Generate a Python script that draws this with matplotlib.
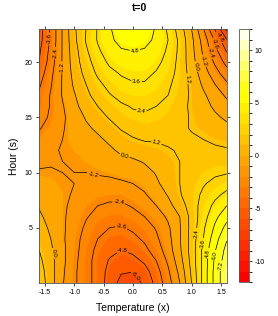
import numpy as np
import matplotlib
matplotlib.use("Agg")
import matplotlib.pyplot as plt
from matplotlib.colors import ListedColormap, BoundaryNorm

plt.rcParams['font.family'] = ['Liberation Sans', 'DejaVu Sans']
plt.rcParams['axes.unicode_minus'] = False

# ---- data ----
temperature = [-1.6, -1.4, -1.2, -1.0, -0.8, -0.6, -0.4, -0.2, 0.0, 0.2, 0.4, 0.6, 0.8, 1.0, 1.2, 1.4, 1.6]
hours = list(range(24))

z_h00 = [2.0, 0.5, -1.1, -2.2, -3.1, -4.1, -5.3, -6.4, -6.5, -5.8, -4.4, -2.9, -1.2, 1.2, 4.0, 6.4, 8.2]
z_h01 = [1.8, 0.5, -1.0, -2.2, -3.1, -4.1, -5.2, -5.9, -6.0, -5.3, -4.1, -2.6, -0.9, 1.4, 4.0, 6.4, 8.2]
z_h02 = [1.5, 0.4, -0.9, -2.1, -3.1, -4.1, -4.9, -5.3, -5.2, -4.6, -3.6, -2.2, -0.5, 1.6, 4.0, 6.2, 7.9]
z_h03 = [1.2, 0.2, -0.9, -2.0, -3.0, -3.9, -4.5, -4.8, -4.5, -3.9, -3.0, -1.8, -0.2, 1.7, 3.9, 5.9, 7.6]
z_h04 = [0.9, 0.0, -1.0, -2.0, -2.8, -3.6, -4.1, -4.2, -3.9, -3.4, -2.6, -1.6, -0.1, 1.7, 3.6, 5.5, 7.1]
z_h05 = [0.5, -0.2, -1.0, -1.8, -2.6, -3.2, -3.6, -3.7, -3.4, -2.9, -2.3, -1.4, -0.1, 1.6, 3.4, 5.0, 6.4]
z_h06 = [0.2, -0.4, -1.0, -1.7, -2.3, -2.8, -3.1, -3.1, -2.8, -2.4, -1.8, -1.0, 0.0, 1.6, 3.1, 4.5, 5.6]
z_h07 = [-0.1, -0.5, -1.0, -1.5, -2.0, -2.4, -2.6, -2.6, -2.3, -1.8, -1.2, -0.4, 0.6, 1.8, 2.9, 3.9, 4.8]
z_h08 = [-0.5, -0.7, -1.0, -1.3, -1.7, -1.9, -2.0, -2.0, -1.7, -1.3, -0.7, 0.1, 1.1, 1.9, 2.6, 3.3, 3.9]
z_h09 = [-0.8, -0.9, -1.1, -1.2, -1.4, -1.5, -1.5, -1.4, -1.2, -0.9, -0.2, 0.5, 1.2, 1.8, 2.3, 2.7, 3.1]
z_h10 = [-1.1, -1.1, -1.2, -1.2, -1.2, -1.1, -1.0, -0.8, -0.7, -0.4, 0.1, 0.7, 1.2, 1.7, 2.0, 2.2, 2.3]
z_h11 = [-1.4, -1.3, -1.2, -1.1, -1.0, -0.8, -0.6, -0.3, -0.2, 0.1, 0.5, 0.8, 1.2, 1.5, 1.7, 1.8, 1.8]
z_h12 = [-1.7, -1.4, -1.1, -1.0, -0.8, -0.5, -0.2, 0.2, 0.5, 0.7, 0.9, 1.1, 1.3, 1.5, 1.5, 1.4, 1.3]
z_h13 = [-2.0, -1.6, -1.2, -0.8, -0.5, -0.2, 0.2, 0.7, 1.1, 1.3, 1.3, 1.4, 1.5, 1.4, 1.2, 1.0, 0.9]
z_h14 = [-2.5, -1.9, -1.3, -0.7, -0.2, 0.2, 0.7, 1.3, 1.6, 1.8, 1.7, 1.6, 1.5, 1.1, 0.9, 0.6, 0.3]
z_h15 = [-2.9, -2.2, -1.4, -0.6, 0.1, 0.7, 1.3, 1.8, 2.1, 2.2, 2.1, 1.9, 1.5, 1.1, 0.6, 0.2, -0.2]
z_h16 = [-3.2, -2.3, -1.3, -0.3, 0.5, 1.2, 1.8, 2.2, 2.5, 2.6, 2.4, 2.1, 1.6, 1.0, 0.4, -0.2, -0.8]
z_h17 = [-3.4, -2.3, -1.1, -0.1, 0.9, 1.7, 2.3, 2.8, 3.0, 3.0, 2.8, 2.4, 1.8, 1.0, 0.2, -0.6, -1.4]
z_h18 = [-3.8, -2.5, -1.1, 0.2, 1.2, 2.1, 2.8, 3.3, 3.5, 3.5, 3.2, 2.6, 1.9, 0.9, -0.2, -1.2, -2.2]
z_h19 = [-4.3, -2.7, -1.1, 0.4, 1.6, 2.6, 3.3, 3.7, 3.9, 3.9, 3.5, 2.9, 2.0, 0.7, -0.6, -1.9, -3.1]
z_h20 = [-4.8, -3.0, -1.1, 0.6, 1.9, 3.0, 3.8, 4.2, 4.4, 4.3, 3.9, 3.2, 2.0, 0.5, -1.1, -2.6, -4.0]
z_h21 = [-5.0, -3.2, -1.1, 0.7, 2.2, 3.4, 4.2, 4.7, 4.8, 4.7, 4.3, 3.4, 2.1, 0.4, -1.4, -3.2, -4.9]
z_h22 = [-5.3, -3.4, -1.1, 0.9, 2.5, 3.7, 4.6, 5.1, 5.3, 5.1, 4.6, 3.6, 2.1, 0.3, -1.7, -3.7, -5.9]
z_h23 = [-5.4, -3.4, -1.1, 1.0, 2.4, 3.7, 4.7, 5.3, 5.5, 5.3, 4.7, 3.4, 1.8, 0.0, -2.3, -4.9, -7.5]

x_ticks = [-1.5, -1.0, -0.5, 0.0, 0.5, 1.0, 1.5]
y_ticks = [5, 10, 15, 20]
cbar_ticks = [-10, -5, 0, 5, 10]
contour_levels = [-7.2, -6.0, -4.8, -3.6, -2.4, -1.2, 0.0, 1.2, 2.4, 3.6, 4.8, 6.0, 7.2, 8.4]

Z = np.array([z_h00, z_h01, z_h02, z_h03, z_h04, z_h05, z_h06, z_h07, z_h08, z_h09, z_h10, z_h11,
              z_h12, z_h13, z_h14, z_h15, z_h16, z_h17, z_h18, z_h19, z_h20, z_h21, z_h22, z_h23])
XX, YY = np.meshgrid(np.array(temperature), np.array(hours, dtype=float))

# heat.colors(24)
cols = [(1.0, k / 17.0, 0.0) for k in range(18)]
for s in np.linspace(1 - 1 / 12, 1 / 12, 6):
    cols.append((1.0, 1.0, 1 - s))
cmap = ListedColormap(cols)
bounds = np.arange(-12, 13, 1)
norm = BoundaryNorm(bounds, cmap.N)

fig = plt.figure(figsize=(2.78, 3.16), dpi=100)
ax = fig.add_axes([38.5 / 278, 33 / 316, 188.8 / 278, 254 / 316])
ax.contourf(XX, YY, Z, levels=bounds, cmap=cmap, norm=norm)
cs = ax.contour(XX, YY, Z, levels=contour_levels, colors='black', linewidths=0.5, linestyles='solid')
lab_pos = [(-1.42, 22.1), (-1.33, 20.8), (-1.21, 19.5), (0.03, 21.1), (0.06, 18.2), (0.15, 15.6),
           (0.4, 12.7), (-0.15, 11.4), (-0.68, 9.75), (-0.24, 7.4), (-0.2, 5.1), (-0.18, 3.0),
           (0.03, 0.6), (-1.35, 2.7), (1.08, 4.5), (1.19, 3.6), (1.28, 2.7), (1.39, 2.5), (1.47, 1.6),
           (0.94, 18.5), (1.08, 19.6), (1.2, 20.1), (1.31, 20.8), (1.41, 21.7), (1.49, 22.3)]
ax.clabel(cs, fmt='%.1f', fontsize=4.5, inline=True, inline_spacing=1, manual=lab_pos)
ax.set_xlim(-1.61, 1.61)
ax.set_ylim(0, 23)
ax.set_xticks(x_ticks)
ax.set_yticks(y_ticks)
ax.tick_params(labelsize=5, length=2.5, width=0.5, direction='out', top=True, right=True, pad=2)
for sp in ax.spines.values():
    sp.set_linewidth(0.6); sp.set_color('#555555')
ax.set_xlabel('Temperature (x)', fontsize=7.5, labelpad=5)
ax.set_ylabel('Hour (s)', fontsize=7.5, labelpad=4)

cax = fig.add_axes([239.3 / 278, 33.7 / 316, 10 / 278, 253.3 / 316])
cb = fig.colorbar(plt.cm.ScalarMappable(norm=norm, cmap=cmap), cax=cax, ticks=cbar_ticks)
cb.ax.tick_params(labelsize=5, length=2, width=0.5, pad=2)
cb.outline.set_linewidth(0.6); cb.outline.set_edgecolor('#555555')

fig.text(0.5, 1 - 8 / 316, 't=0', ha='center', va='center', fontweight='bold', fontsize=7.5)
fig.savefig('out.png', dpi=100)
